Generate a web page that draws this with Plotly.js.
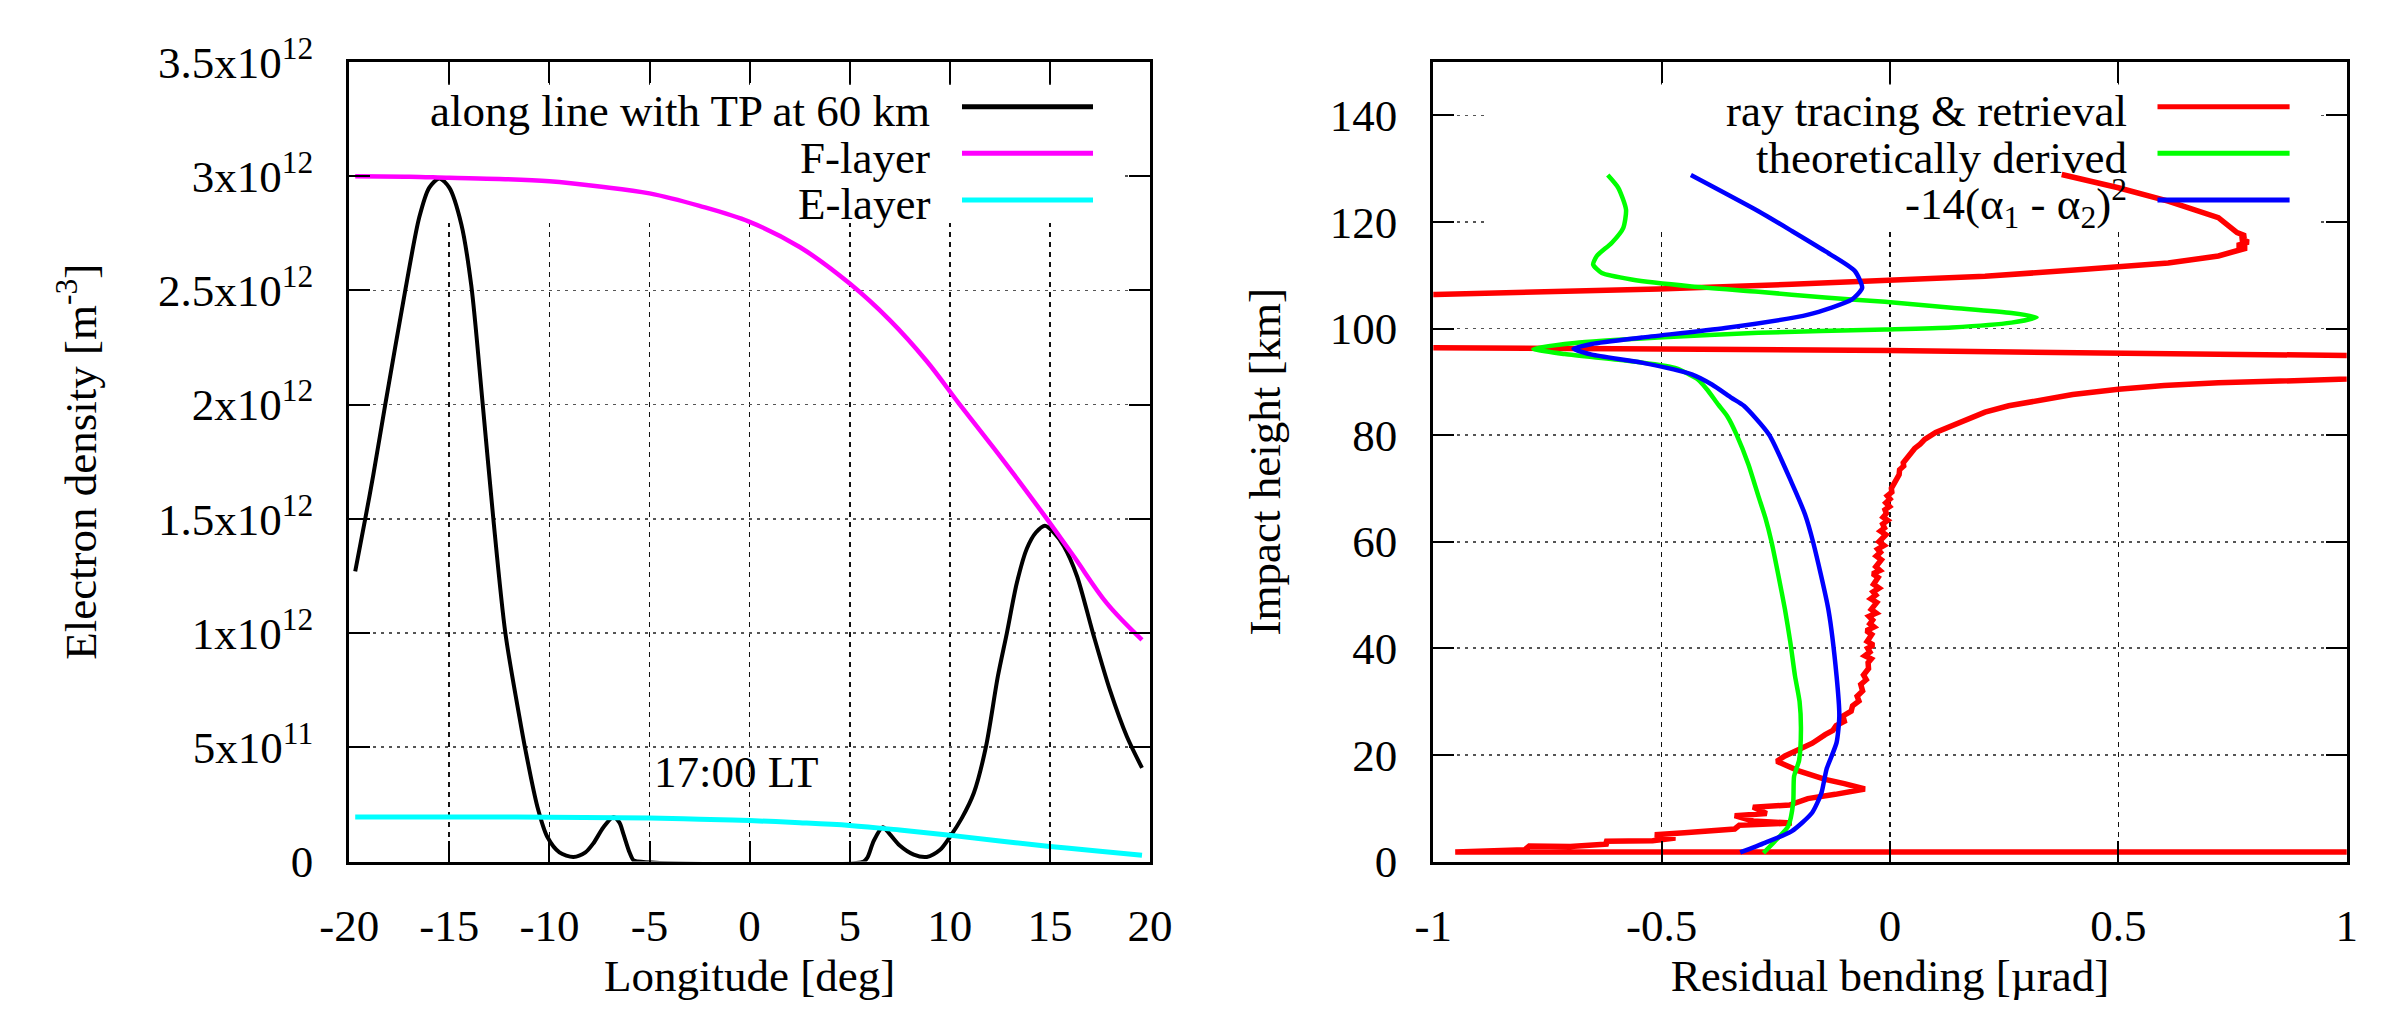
<!DOCTYPE html>
<html><head><meta charset="utf-8">
<script src="https://cdn.plot.ly/plotly-3.0.1.min.js"></script>
<style>html,body{margin:0;padding:0;background:#fff}#chart{width:2384px;height:1011px}</style>
</head><body><div id="chart"></div>
<script>
// ---------- Left panel: electron density (units of 10^12 m^-3) vs longitude ----------
const tpLon = [-19.7,-19.2,-18.8,-18.2,-17.2,-16.5,-16.0,-15.5,-15.0,-14.4,-13.9,-13.35,-12.8,-12.2,-11.5,-11.2,-10.6,-10.1,-9.5,-8.8,-8.2,-7.8,-7.3,-6.8,-6.5,-6.3,-6.0,-5.8,-5.6,5.7,5.9,6.2,6.65,7.0,7.5,8.2,8.85,9.5,10.0,10.6,11.2,11.8,12.4,12.85,13.35,13.85,14.3,14.75,15.2,15.7,16.35,17.15,18.0,18.85,19.6];
const tpDensity = [1.27,1.50,1.69,2.00,2.50,2.82,2.95,2.99,2.95,2.79,2.52,2.02,1.50,1.00,0.634,0.49,0.24,0.107,0.04,0.02,0.04,0.08,0.15,0.195,0.17,0.12,0.04,0.005,0,0,0.02,0.09,0.15,0.12,0.07,0.03,0.02,0.05,0.107,0.19,0.30,0.50,0.81,1.00,1.22,1.37,1.44,1.47,1.44,1.38,1.25,1.00,0.75,0.546,0.41];
const fLon = [-19.7,-17,-15,-12.5,-10,-7.5,-5,-2.5,0,2.5,5,7,8.85,10.5,12.2,13.5,14.85,16.2,17.85,19.6];
const fDensity = [3.000,2.998,2.993,2.988,2.978,2.955,2.925,2.87,2.80,2.69,2.53,2.37,2.19,2.00,1.81,1.66,1.50,1.335,1.13,0.97];
const eLon = [-19.7,-15,-10,-5,-2.5,0,2.5,5,7.5,10,12.5,15,17.5,19.6];
const eDensity = [0.195,0.195,0.194,0.19,0.185,0.179,0.17,0.158,0.138,0.115,0.09,0.066,0.045,0.027];
const lonTickVals = [-20,-15,-10,-5,0,5,10,15,20];
const lonTickText = ["-20","-15","-10","-5","0","5","10","15","20"];
const densTickVals = [0,0.5,1,1.5,2,2.5,3,3.5];
const densTickText = ["0","5x10<sup>11</sup>","1x10<sup>12</sup>","1.5x10<sup>12</sup>","2x10<sup>12</sup>","2.5x10<sup>12</sup>","3x10<sup>12</sup>","3.5x10<sup>12</sup>"];
const leftNames = ["along line with TP at 60 km","F-layer","E-layer"];
const leftNote = "17:00 LT";

// ---------- Right panel: residual bending [µrad] vs impact height [km] ----------
const rayBend = [1.30,-0.952,-0.80,-0.79,-0.70,-0.617,-0.625,-0.52,-0.47,-0.515,-0.45,-0.34,-0.33,-0.215,-0.30,-0.34,-0.27,-0.30,-0.22,-0.18,-0.12,-0.055,-0.10,-0.142,-0.20,-0.248,-0.23,-0.208,-0.17,-0.142,-0.125,-0.118,-0.100,-0.103,-0.085,-0.082,-0.068,-0.072,-0.060,-0.064,-0.052,-0.058,-0.047,-0.048,-0.041,-0.055,-0.044,-0.049,-0.036,-0.050,-0.043,-0.040,-0.052,-0.035,-0.044,-0.038,-0.046,-0.030,-0.041,-0.036,-0.029,-0.042,-0.031,-0.037,-0.024,-0.036,-0.030,-0.026,-0.038,-0.022,-0.031,-0.025,-0.019,-0.030,-0.021,-0.027,-0.013,-0.024,-0.018,-0.009,-0.021,-0.012,-0.016,-0.005,-0.015,-0.008,-0.011,-0.001,-0.009,0.000,-0.006,0.004,0.003,0.007,0.013,0.020,0.021,0.030,0.029,0.040,0.046,0.054,0.066,0.076,0.100,0.135,0.170,0.208,0.260,0.318,0.400,0.500,0.600,0.719,0.850,0.993,1.600,1.200,0.500,0.000,-0.500,-1.200,-1.600,-1.200,-0.996,-0.507,-0.215,-0.011,0.208,0.427,0.609,0.719,0.781,0.760,0.785,0.768,0.778,0.760,0.719,0.609,0.500,0.376];
const rayHeight = [1.8,1.8,2.2,2.9,2.8,3.3,3.8,3.9,4.4,5.0,5.4,6.1,6.8,7.2,7.6,8.6,9.0,10.2,10.6,11.8,12.6,13.6,14.6,15.4,17.0,18.8,19.8,20.7,22.2,23.8,24.6,25.5,26.3,27.3,28.2,29.2,30.1,31.0,32.0,33.2,34.1,35.0,36.2,37.3,38.0,38.6,39.3,40.0,40.6,41.3,42.0,42.6,43.3,44.0,44.6,45.3,46.0,46.6,47.3,48.0,48.6,49.3,50.0,50.6,51.3,52.0,52.6,53.3,54.0,54.6,55.3,56.0,56.6,57.3,58.0,58.6,59.3,60.0,60.6,61.3,62.0,62.6,63.3,64.0,64.6,65.3,66.0,66.6,67.3,68.0,68.6,69.3,70.0,70.6,72.0,72.6,73.5,74.2,74.8,76.0,76.6,77.5,78.3,79.2,80.5,81.7,83.0,84.3,85.5,86.4,87.6,88.6,89.3,89.8,90.2,90.6,92.0,94.75,95.45,95.85,96.15,96.5,101.0,106.3,106.4,107.4,108.3,109.0,109.8,111.1,112.3,113.6,115.1,115.6,116.2,116.8,117.4,118.0,120.8,123.9,126.4,128.9];
const theoBend = [-0.277,-0.252,-0.223,-0.212,-0.21,-0.199,-0.195,-0.198,-0.208,-0.218,-0.23,-0.244,-0.259,-0.273,-0.288,-0.31,-0.336,-0.356,-0.376,-0.40,-0.42,-0.471,-0.58,-0.712,-0.781,-0.69,-0.507,-0.288,-0.011,0.135,0.266,0.321,0.266,0.135,-0.011,-0.142,-0.288,-0.434,-0.566,-0.631,-0.65,-0.642,-0.609,-0.584,-0.578,-0.595,-0.618];
const theoHeight = [1.6,3.8,6.6,11,16,19,24.8,30,34.8,41,47.3,53.5,59.8,64.5,68.5,74.5,80.1,83.5,85.7,88.5,90.4,92.6,94.0,95.2,96.2,97.3,98.3,99.2,99.8,100.2,101.1,102.1,102.9,103.9,105.0,105.8,106.9,107.9,109.2,110.4,112.0,113.6,116.1,118.9,122.3,126.4,128.8];
const alphaBend = [-0.328,-0.274,-0.215,-0.171,-0.15,-0.139,-0.117,-0.111,-0.117,-0.135,-0.168,-0.186,-0.215,-0.265,-0.32,-0.347,-0.39,-0.434,-0.544,-0.653,-0.693,-0.653,-0.544,-0.361,-0.179,-0.084,-0.061,-0.077,-0.142,-0.215,-0.288,-0.436];
const alphaHeight = [1.7,3.5,5.7,9.1,12.9,17.3,22.3,27.3,34.8,47.3,59.8,65.1,71,80.1,85.5,87.0,89.5,91.4,93.6,95.1,96.2,97.1,98.3,100.1,102.6,105.4,107.6,110.8,114.5,118.3,122.0,128.8];
const bendTickVals = [-1,-0.5,0,0.5,1];
const bendTickText = ["-1","-0.5","0","0.5","1"];
const heightTickVals = [0,20,40,60,80,100,120,140];
const heightTickText = ["0","20","40","60","80","100","120","140"];
const rightNames = ["ray tracing &amp; retrieval","theoretically derived","-14(α<sub>1</sub> - α<sub>2</sub>)<sup>2</sup>"];

// ---------- styling ----------
const FONT = "Liberation Serif, Times New Roman, serif";
const FS = 45;
const leftColors = ["#000000","#ff00ff","#00ffff"];
const rightColors = ["#ff0000","#00ff00","#0000ff"];

const traces = [
  {x: tpLon, y: tpDensity, name: leftNames[0], mode: "lines", line: {color: leftColors[0], width: 4, shape: "spline", smoothing: 0.8}, xaxis: "x", yaxis: "y"},
  {x: fLon, y: fDensity, name: leftNames[1], mode: "lines", line: {color: leftColors[1], width: 4.5, shape: "spline"}, xaxis: "x", yaxis: "y"},
  {x: eLon, y: eDensity, name: leftNames[2], mode: "lines", line: {color: leftColors[2], width: 5, shape: "spline"}, xaxis: "x", yaxis: "y"},
  {x: rayBend, y: rayHeight, name: "ray tracing & retrieval", mode: "lines", line: {color: rightColors[0], width: 5.5}, xaxis: "x2", yaxis: "y2"},
  {x: theoBend, y: theoHeight, name: "theoretically derived", mode: "lines", line: {color: rightColors[1], width: 4.5, shape: "spline", smoothing: 0.6}, xaxis: "x2", yaxis: "y2"},
  {x: alphaBend, y: alphaHeight, name: "-14(α1 - α2)^2", mode: "lines", line: {color: rightColors[2], width: 4.5, shape: "spline", smoothing: 0.6}, xaxis: "x2", yaxis: "y2"}
];

const W = 2384, H = 1011;
const yDom = [1 - 861.5/H, 1 - 62/H];
const baseAxis = {
  showline: true, linewidth: 3, linecolor: "#000", mirror: "ticks",
  ticks: "inside", ticklen: 21, tickwidth: 2, tickcolor: "#000",
  tickfont: {family: FONT, size: FS, color: "#000"},
  zeroline: false, automargin: false, showgrid: true, tickmode: "array"
};
function xax(dom, range, tv, tt, title) {
  return Object.assign({}, baseAxis, {domain: dom, range: range, tickvals: tv, ticktext: tt,
    gridcolor: "#111", gridwidth: 1.6, griddash: "5px,5px", ticklabelstandoff: 22,
    title: {text: title, font: {family: FONT, size: FS, color: "#000"}, standoff: 4}});
}
function yax(dom, range, tv, tt, title, anchor, standoff) {
  return Object.assign({}, baseAxis, {domain: dom, range: range, tickvals: tv, ticktext: tt, anchor: anchor,
    gridcolor: "#555", gridwidth: 1.6, griddash: "3px,5px", ticklabelstandoff: 24,
    title: {text: title, font: {family: FONT, size: FS, color: "#000"}, standoff: standoff}});
}

const rowY = [1 - 111/H, 1 - 157.5/H, 1 - 204/H];
const sampleY = [1 - 106.7/H, 1 - 153.3/H, 1 - 200/H];
const annotations = [];
// white key areas that hide the grid (drawn between grid and curves)
const shapes = [
  {type: "rect", xref: "x", yref: "y", x0: -17.3, x1: 18.6, y0: 2.795, y1: 3.40, fillcolor: "#ffffff", line: {width: 0}, layer: "between"},
  {type: "rect", xref: "x2", yref: "y2", x0: -0.882, x1: 0.935, y0: 119.0, y1: 145.8, fillcolor: "#ffffff", line: {width: 0}, layer: "between"}
];
for (let i = 0; i < 3; i++) {
  annotations.push({xref: "paper", yref: "paper", x: 932/W, y: rowY[i], xanchor: "right", yanchor: "middle", showarrow: false,
    text: leftNames[i], font: {family: FONT, size: FS, color: "#000"}});
  annotations.push({xref: "paper", yref: "paper", x: 2129/W, y: rowY[i], xanchor: "right", yanchor: "middle", showarrow: false,
    text: rightNames[i], font: {family: FONT, size: FS, color: "#000"}});
  shapes.push({type: "line", xref: "paper", yref: "paper", x0: 962/W, x1: 1093/W, y0: sampleY[i], y1: sampleY[i], line: {color: leftColors[i], width: 5}});
  shapes.push({type: "line", xref: "paper", yref: "paper", x0: 2157.5/W, x1: 2289.6/W, y0: sampleY[i], y1: sampleY[i], line: {color: rightColors[i], width: 5}});
}
annotations.push({xref: "x", yref: "y", x: -0.63, y: 0.39, xanchor: "center", yanchor: "middle", showarrow: false,
  text: leftNote, font: {family: FONT, size: FS, color: "#000"}});

const layout = {
  width: W, height: H, margin: {l: 0, r: 0, t: 0, b: 0},
  paper_bgcolor: "#fff", plot_bgcolor: "#fff", showlegend: false, hovermode: false,
  font: {family: FONT, size: FS, color: "#000"},
  xaxis: xax([349.2/W, 1150/W], [-20, 20], lonTickVals, lonTickText, "Longitude [deg]"),
  yaxis: yax(yDom, [0, 3.5], densTickVals, densTickText, "Electron density [m<sup>-3</sup>]", "x", 48),
  xaxis2: Object.assign(xax([1433.3/W, 2346.7/W], [-1, 1], bendTickVals, bendTickText, "Residual bending [µrad]"), {anchor: "y2"}),
  yaxis2: yax(yDom, [0, 150], heightTickVals, heightTickText, "Impact height [km]", "x2", 36),
  annotations: annotations, shapes: shapes
};
layout.xaxis.anchor = "y";
Plotly.newPlot("chart", traces, layout, {staticPlot: true, displayModeBar: false});
</script></body></html>
